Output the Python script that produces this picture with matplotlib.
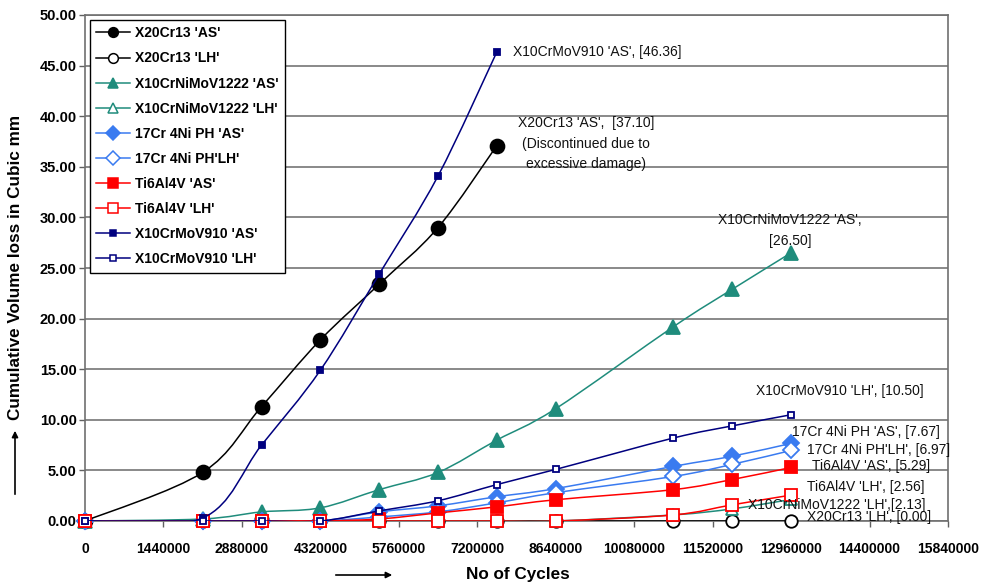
import numpy as np
import matplotlib
matplotlib.use("Agg")
import matplotlib.pyplot as plt
from matplotlib.path import Path
from matplotlib.patches import PathPatch
from matplotlib.lines import Line2D

plt.rcParams['font.family'] = ['Liberation Sans', 'DejaVu Sans']

# test cycles at which volume loss was measured
cycles_long = [0, 2160000, 3240000, 4320000, 5400000, 6480000, 7560000,
               8640000, 10800000, 11880000, 12960000]
cycles_short = [0, 2160000, 3240000, 4320000, 5400000, 6480000, 7560000]

# cumulative volume loss, cubic mm
x20cr13_as = [0, 4.8, 11.3, 17.9, 23.4, 29.0, 37.10]
x20cr13_lh = [0, 0, 0, 0, 0, 0, 0, 0, 0, 0, 0.00]
x10crnimov_as = [0, 0.2, 0.9, 1.3, 3.1, 4.8, 8.0, 11.1, 19.2, 22.9, 26.50]
x10crnimov_lh = [0, 0, 0, 0, 0, 0, 0, 0, 0.6, 1.2, 2.13]
cr17ni4_as = [0, 0, 0, 0, 0.9, 1.5, 2.4, 3.2, 5.4, 6.4, 7.67]
cr17ni4_lh = [0, 0, 0, 0, 0.4, 0.9, 1.8, 2.8, 4.4, 5.6, 6.97]
ti6al4v_as = [0, 0, 0, 0, 0.2, 0.8, 1.4, 2.1, 3.1, 4.1, 5.29]
ti6al4v_lh = [0, 0, 0, 0, 0, 0, 0, 0, 0.6, 1.6, 2.56]
x10crmov_as = [0, 0.3, 7.5, 14.9, 24.4, 34.1, 46.36]
x10crmov_lh = [0, 0, 0, 0, 1.0, 2.0, 3.6, 5.1, 8.2, 9.4, 10.50]

teal = '#1f8c7c'
blue = '#3a7bf0'
red = '#ff0000'
navy = '#00007f'

# label, x, y, colour, marker, size, filled
series = [
    ("X20Cr13 'AS'", cycles_short, x20cr13_as, 'black', 'o', 10, True),
    ("X20Cr13 'LH'", cycles_long, x20cr13_lh, 'black', 'o', 9, False),
    ("X10CrNiMoV1222 'AS'", cycles_long, x10crnimov_as, teal, '^', 10, True),
    ("X10CrNiMoV1222 'LH'", cycles_long, x10crnimov_lh, teal, '^', 8, False),
    ("17Cr 4Ni PH 'AS'", cycles_long, cr17ni4_as, blue, 'D', 8, True),
    ("17Cr 4Ni PH'LH'", cycles_long, cr17ni4_lh, blue, 'D', 8, False),
    ("Ti6Al4V 'AS'", cycles_long, ti6al4v_as, red, 's', 9, True),
    ("Ti6Al4V 'LH'", cycles_long, ti6al4v_lh, red, 's', 9, False),
    ("X10CrMoV910 'AS'", cycles_short, x10crmov_as, navy, 's', 5, True),
    ("X10CrMoV910 'LH'", cycles_long, x10crmov_lh, navy, 's', 5, False),
]


def smooth_path(xs, ys):
    # cardinal spline through the points, as bezier segments
    p = np.column_stack([xs, ys]).astype(float)
    n = len(p)
    verts = [p[0]]
    codes = [Path.MOVETO]
    for i in range(n - 1):
        p0 = p[max(i - 1, 0)]
        p1 = p[i]
        p2 = p[i + 1]
        p3 = p[min(i + 2, n - 1)]
        c1 = p1 + (p2 - p0) / 6.0
        c2 = p2 - (p3 - p1) / 6.0
        verts += [c1, c2, p2]
        codes += [Path.CURVE4] * 3
    return Path(verts, codes)


fig = plt.figure(figsize=(9.81, 5.86), dpi=100)
ax = fig.add_axes([85 / 981, 1 - 521 / 586, 863 / 981, 506 / 586])

handles = []
for k, (lab, xs, ys, col, mk, ms, filled) in enumerate(series):
    ax.add_patch(PathPatch(smooth_path(xs, ys), facecolor='none', edgecolor=col,
                           lw=1.1, zorder=3 + k * 0.1))
    ax.plot(xs, ys, ls='none', marker=mk, ms=ms, color=col,
            mfc=col if filled else 'white', mec=col, mew=1.3,
            zorder=3.05 + k * 0.1, clip_on=False)
    handles.append(Line2D([], [], color=col, lw=1.1, marker=mk,
                          ms=min(ms, 7), mfc=col if filled else 'white',
                          mec=col, mew=1.1, label=lab))

ax.set_xlim(0, 15840000)
ax.set_ylim(0, 50)
ax.set_xticks(np.arange(0, 15840001, 1440000))
ax.set_xticklabels([str(v) for v in range(0, 15840001, 1440000)])
ax.set_yticks(np.arange(0, 50.1, 5))
ax.set_yticklabels(['%.2f' % v for v in np.arange(0, 50.1, 5)])
ax.tick_params(axis='both', direction='out', length=4, width=1, color='#606060',
               labelsize=10)
ax.tick_params(axis='x', pad=11)
ax.tick_params(axis='y', pad=2, labelsize=10.5)
for t in ax.get_xticklabels() + ax.get_yticklabels():
    t.set_fontweight('bold')

ax.grid(axis='y', color='#808080', lw=1.3)
ax.set_axisbelow(True)
for s in ax.spines.values():
    s.set_color('#707070')
    s.set_linewidth(1.2)

leg = ax.legend(handles=handles, loc='upper left', bbox_to_anchor=(0.006, 0.99),
                borderaxespad=0, fancybox=False, framealpha=1, edgecolor='black',
                prop={'weight': 'bold', 'size': 10}, handlelength=2.4,
                labelspacing=0.8, borderpad=0.45, handletextpad=0.4)
leg.get_frame().set_linewidth(1.0)
leg.set_zorder(10)

# end-point labels
tf = dict(fontsize=10, color='#111111', zorder=6)
ax.text(7850000, 46.36, "X10CrMoV910 'AS', [46.36]", va='center', **tf)
ax.text(9200000, 37.3, "X20Cr13 'AS',  [37.10]\n(Discontinued due to\nexcessive damage)",
        ha='center', va='center', multialignment='center', linespacing=1.6, **tf)
ax.text(12940000, 28.7, "X10CrNiMoV1222 'AS',\n[26.50]", ha='center', va='center',
        multialignment='center', linespacing=1.7, **tf)
ax.text(12320000, 12.8, "X10CrMoV910 'LH', [10.50]", va='center', **tf)
ax.text(12980000, 8.8, "17Cr 4Ni PH 'AS', [7.67]", va='center', **tf)
ax.text(13250000, 7.0, "17Cr 4Ni PH'LH', [6.97]", va='center', clip_on=False, **tf)
ax.text(13340000, 5.45, "Ti6Al4V 'AS', [5.29]", va='center', **tf)
ax.text(13250000, 3.4, "Ti6Al4V 'LH', [2.56]", va='center', **tf)
ax.text(12160000, 1.6, "X10CrNiMoV1222 'LH',[2.13]", va='center', **tf)
ax.text(13250000, 0.4, "X20Cr13 'LH', [0.00]", va='center', **tf)

# axis titles with arrows
fig.text(16 / 981, 1 - 420 / 586, "Cumulative Volume loss in Cubic mm", rotation=90,
         ha='center', va='bottom', fontsize=12.3, fontweight='bold')
fig.text(518 / 981, 1 - 575 / 586, "No of Cycles", ha='center', va='center',
         fontsize=12.3, fontweight='bold')
arrow = dict(arrowstyle='-|>', color='black', lw=1.2, mutation_scale=9)
ax.annotate('', xy=(15 / 981, 1 - 428 / 586), xytext=(15 / 981, 1 - 497 / 586),
            xycoords='figure fraction', textcoords='figure fraction', arrowprops=arrow)
ax.annotate('', xy=(395 / 981, 1 - 575 / 586), xytext=(333 / 981, 1 - 575 / 586),
            xycoords='figure fraction', textcoords='figure fraction', arrowprops=arrow)

fig.savefig('out.png', dpi=100)
